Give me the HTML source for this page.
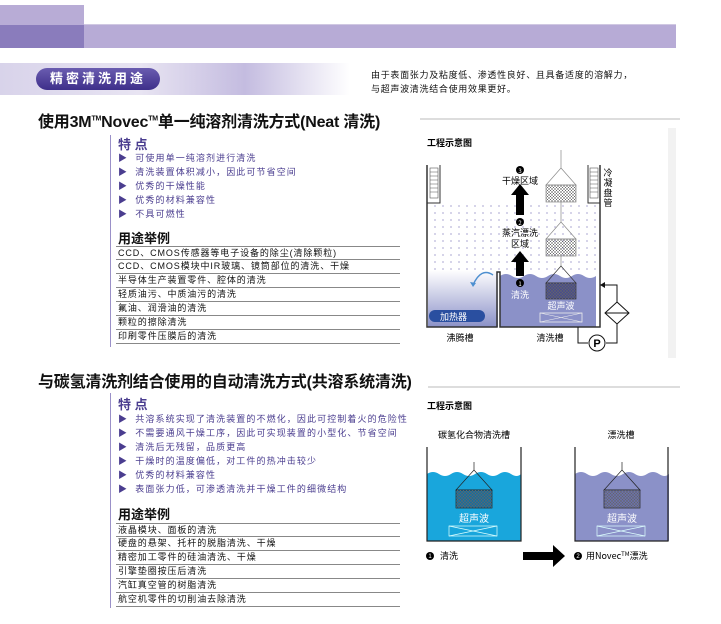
<!DOCTYPE html>
<html><head><meta charset="utf-8"><style>
*{margin:0;padding:0;box-sizing:border-box}
body{width:721px;height:624px;background:#fff;position:relative;overflow:hidden;font-family:"Liberation Sans","Noto Sans CJK SC",sans-serif;color:#111}
.a{position:absolute;white-space:nowrap}
.h{font-size:16px;font-weight:bold;letter-spacing:-0.2px}
.f{font-size:13px;font-weight:bold;color:#4a3d8f}
.u{font-size:13px;font-weight:bold;color:#111}
.b{font-size:9px;color:#4a3d8f;line-height:14px;letter-spacing:1.1px}
.row{position:absolute;left:116px;width:284px;border-bottom:1px solid #888;height:14px;font-size:9px;line-height:13px;padding-left:2px;white-space:nowrap;letter-spacing:0.9px}
</style></head><body>
<div class="a" style="left:0;top:5px;width:84px;height:20px;background:#b8acd6"></div>
<div class="a" style="left:0;top:25px;width:84px;height:23px;background:#8a7cbc"></div>
<div class="a" style="left:84px;top:24px;width:592px;height:1px;background:#d0c8e2"></div>
<div class="a" style="left:84px;top:25px;width:592px;height:23px;background:#b7abd6"></div>
<div class="a" style="left:0;top:63px;width:350px;height:32px;background:linear-gradient(90deg,#d8d3ea,#e8e4f2 40%,#c4bce0 70%,#fff)"></div>
<div class="a" style="left:36px;top:68px;width:124px;height:22px;border-radius:11px;background:linear-gradient(#6a5cb0,#3e2f8a);color:#fff;font-size:13px;font-weight:bold;letter-spacing:3px;line-height:22px;text-align:center">精密清洗用途</div>
<div class="a" style="left:371px;top:68px;font-size:9px;line-height:14px;letter-spacing:0.7px">由于表面张力及粘度低、渗透性良好、且具备适度的溶解力，<br>与超声波清洗结合使用效果更好。</div>
<div class="a" style="left:668px;top:128px;width:8px;height:230px;background:#f2f2f2"></div>

<div class="a h" style="left:38px;top:108px">使用3M<sup style="font-size:7px">TM</sup>Novec<sup style="font-size:7px">TM</sup>单一纯溶剂清洗方式(Neat 清洗)</div>
<div class="a" style="left:420px;top:118px;width:260px;height:2px;background:#ddd"></div>
<div class="a" style="left:110px;top:135px;width:1px;height:212px;background:#9a90c8"></div>
<div class="a f" style="left:118px;top:134px">特 点</div>
<div class="a b" style="left:118px;top:151px">▶&nbsp; 可使用单一纯溶剂进行清洗<br>▶&nbsp; 清洗装置体积减小，因此可节省空间<br>▶&nbsp; 优秀的干燥性能<br>▶&nbsp; 优秀的材料兼容性<br>▶&nbsp; 不具可燃性</div>
<div class="a u" style="left:118px;top:228px">用途举例</div>
<div class="row" style="top:246px;border-top:1px solid #888">CCD、CMOS传感器等电子设备的除尘(清除颗粒)</div>
<div class="row" style="top:260px">CCD、CMOS模块中IR玻璃、镜筒部位的清洗、干燥</div>
<div class="row" style="top:274px">半导体生产装置零件、腔体的清洗</div>
<div class="row" style="top:288px">轻质油污、中质油污的清洗</div>
<div class="row" style="top:302px">氟油、润滑油的清洗</div>
<div class="row" style="top:316px">颗粒的擦除清洗</div>
<div class="row" style="top:330px">印刷零件压膜后的清洗</div>

<svg class="a" style="left:0;top:0" width="721" height="624">
<defs>
<pattern id="dots" width="8" height="7" patternUnits="userSpaceOnUse"><circle cx="3" cy="3" r="1" fill="#c9c6e2"/></pattern>
<pattern id="mesh" width="3" height="3" patternUnits="userSpaceOnUse"><path d="M0 0L3 3M3 0L0 3" stroke="#666" stroke-width=".5"/></pattern>
<linearGradient id="lg" x1="0" y1="0" x2="0" y2="1"><stop offset="0" stop-color="#fff"/><stop offset="1" stop-color="#8b91c8"/></linearGradient>
</defs>
<text x="427" y="146" font-size="9" font-weight="bold" font-family="Noto Sans CJK SC">工程示意图</text>
<rect x="428" y="203" width="172" height="72" fill="url(#dots)"/>
<rect x="428" y="270" width="70" height="57" fill="url(#lg)"/>
<path d="M500 276 q6 -4 12 0 t12 0 t12 0 t12 0 t12 0 t12 0 t12 0 t12 0 V327 H500Z" fill="#8b91c8"/>
<path d="M427 165V327H497V272h3V327H600V165" fill="none" stroke="#333" stroke-width="1.5"/>
<path d="M427 203H440V165M600 203H588V165" fill="none" stroke="#333"/>
<rect x="430" y="168" width="8" height="30" fill="#fff" stroke="#555" stroke-width=".6"/>
<rect x="590" y="168" width="8" height="30" fill="#fff" stroke="#555" stroke-width=".6"/>
<g stroke="#555" stroke-width=".5"><path d="M430 172h8M430 176h8M430 180h8M430 184h8M430 188h8M430 192h8M590 172h8M590 176h8M590 180h8M590 184h8M590 188h8M590 192h8"/></g>
<rect x="429" y="310" width="56" height="12" rx="6" fill="#2a4fa0"/>
<text x="440" y="320" font-size="9" fill="#fff" font-family="Noto Sans CJK SC">加热器</text>
<path d="M493 275 q-12 -8 -20 10" fill="none" stroke="#4d8fd0" stroke-width="1.5"/>
<path d="M470 282l3 5 3-4z" fill="#4d8fd0"/>
<path d="M516 215h8v-20h5l-9-11-9 11h5z M516 276h8v-14h5l-9-11-9 11h5z" fill="#000"/>
<g font-family="Noto Sans CJK SC" font-size="9" text-anchor="middle">
<circle cx="520" cy="170" r="4"/><text x="520" y="173" fill="#fff" font-size="6">3</text>
<text x="520" y="184">干燥区域</text>
<circle cx="520" cy="222" r="4"/><text x="520" y="225" fill="#fff" font-size="6">2</text>
<text x="520" y="236">蒸汽漂洗</text><text x="520" y="247">区域</text>
<circle cx="520" cy="283" r="4"/><text x="520" y="286" fill="#fff" font-size="6">1</text>
<text x="520" y="298" fill="#fff">清洗</text>
<text x="561" y="309" fill="#fff">超声波</text>
<text x="460" y="341">沸腾槽</text><text x="550" y="341">清洗槽</text>
<text x="608" y="176">冷</text><text x="608" y="186">凝</text><text x="608" y="196">盘</text><text x="608" y="206">管</text>
</g>
<g stroke="#888" stroke-width=".7" fill="none">
<path d="M561 150v18l-15 17h30l-15-17"/><rect x="546" y="185" width="30" height="17" fill="url(#mesh)"/>
<path d="M561 202v20l-15 17h30l-15-17"/><rect x="546" y="239" width="30" height="17" fill="url(#mesh)"/>
<path d="M561 256v10"/>
</g>
<path d="M561 266l-15 17h30z" fill="none" stroke="#333" stroke-width=".7"/>
<rect x="546" y="283" width="30" height="16" fill="#4a4e8a" stroke="#333" stroke-width=".7"/>
<rect x="546" y="283" width="30" height="16" fill="url(#mesh)"/>
<rect x="540" y="313" width="42" height="9" fill="none" stroke="#eee" stroke-width=".8"/>
<path d="M540 313l42 9M582 313l-42 9" stroke="#eee" stroke-width=".6"/>
<path d="M600 285H617V302M617 324V343H606M588 343H578V327" fill="none" stroke="#111"/>
<path d="M600 285l5-3v6z" fill="#111"/>
<path d="M617 302l12 11-12 11-12-11z" fill="#fff" stroke="#111"/><path d="M605 313h24" stroke="#111"/>
<circle cx="597" cy="343" r="8" fill="#fff" stroke="#111"/>
<text x="597" y="347" font-size="11" font-weight="bold" text-anchor="middle" font-family="Liberation Sans">P</text>
</svg>

<div class="a h" style="left:38px;top:368px">与碳氢清洗剂结合使用的自动清洗方式(共溶系统清洗)</div>
<div class="a" style="left:428px;top:386px;width:252px;height:2px;background:#ddd"></div>
<div class="a" style="left:110px;top:393px;width:1px;height:215px;background:#9a90c8"></div>
<div class="a f" style="left:118px;top:394px">特 点</div>
<div class="a b" style="left:118px;top:412px">▶&nbsp; 共溶系统实现了清洗装置的不燃化，因此可控制着火的危险性<br>▶&nbsp; 不需要通风干燥工序，因此可实现装置的小型化、节省空间<br>▶&nbsp; 清洗后无残留，品质更高<br>▶&nbsp; 干燥时的温度偏低，对工件的热冲击较少<br>▶&nbsp; 优秀的材料兼容性<br>▶&nbsp; 表面张力低，可渗透清洗并干燥工件的细微结构</div>
<div class="a u" style="left:118px;top:504px">用途举例</div>
<div class="row" style="top:523px;border-top:1px solid #888">液晶模块、面板的清洗</div>
<div class="row" style="top:537px">硬盘的悬架、托杆的脱脂清洗、干燥</div>
<div class="row" style="top:551px">精密加工零件的硅油清洗、干燥</div>
<div class="row" style="top:565px">引擎垫圈按压后清洗</div>
<div class="row" style="top:579px">汽缸真空管的树脂清洗</div>
<div class="row" style="top:593px">航空机零件的切削油去除清洗</div>

<svg class="a" style="left:0;top:0" width="721" height="624">
<g font-family="Noto Sans CJK SC" font-size="9">
<text x="427" y="409" font-weight="bold">工程示意图</text>
<text x="474" y="438" text-anchor="middle">碳氢化合物清洗槽</text>
<text x="621" y="438" text-anchor="middle">漂洗槽</text>
</g>
<path d="M427 474 q6 -4 12 0 t12 0 t12 0 t12 0 t12 0 t12 0 t12 0 t10 0 V541 H427Z" fill="#19a6dc"/>
<path d="M575 474 q6 -4 12 0 t12 0 t12 0 t12 0 t12 0 t12 0 t12 0 t10 0 V541 H575Z" fill="#8b91c8"/>
<path d="M427 447V541H521V447M575 447V541H668V447" fill="none" stroke="#222" stroke-width="1.2"/>
<g fill="none" stroke="#222" stroke-width=".7">
<path d="M474 462v8l-18 20h36l-18-20"/><path d="M622 462v8l-18 20h36l-18-20"/>
</g>
<rect x="456" y="490" width="36" height="18" fill="#1a6e9c" stroke="#222" stroke-width=".7"/><rect x="456" y="490" width="36" height="18" fill="url(#mesh)"/>
<rect x="604" y="490" width="36" height="18" fill="#6a70a8" stroke="#222" stroke-width=".7"/><rect x="604" y="490" width="36" height="18" fill="url(#mesh)"/>
<g stroke="#dff" stroke-width=".7" fill="none">
<rect x="449" y="526" width="48" height="10"/><path d="M449 526l48 10M497 526l-48 10"/>
<rect x="597" y="526" width="48" height="10"/><path d="M597 526l48 10M645 526l-48 10"/>
</g>
<g font-family="Noto Sans CJK SC" font-size="10" fill="#fff" text-anchor="middle">
<text x="474" y="522">超声波</text><text x="622" y="522">超声波</text></g>
<path d="M523 552h30v-7l12 11-12 11v-7h-30z" fill="#000"/>
<circle cx="430" cy="556" r="4"/><circle cx="578" cy="556" r="4"/>
<g font-family="Liberation Sans" font-size="6" fill="#fff" text-anchor="middle"><text x="430" y="558">1</text><text x="578" y="558">2</text></g>
<g font-family="Noto Sans CJK SC" font-size="9">
<text x="440" y="559">清洗</text>
<text x="586" y="559">用Novec<tspan font-size="6" dy="-3">TM</tspan><tspan dy="3">漂洗</tspan></text>
</g>
</svg>
</body></html>
